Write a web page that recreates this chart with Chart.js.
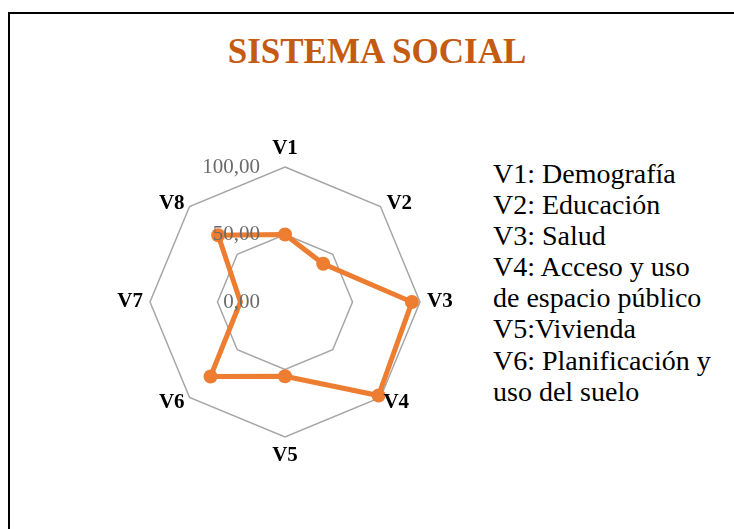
<!DOCTYPE html>
<html>
<head>
<meta charset="utf-8">
<script src="https://cdn.jsdelivr.net/npm/chart.js@4.4.1/dist/chart.umd.min.js"></script>
<style>
    html, body { margin: 0; padding: 0; background: #fff; overflow: hidden; }
    body { width: 734px; height: 529px; position: relative; }
    #frame { position: absolute; left: 8px; top: 12px; width: 780px; height: 580px; border: 2px solid #000; }
    #title { position: absolute; left: 0; width: 754px; top: 32px; text-align: center; font-family: 'Liberation Serif', 'Times New Roman', serif; font-weight: bold; font-size: 35px; line-height: 40px; color: #C55A11; }
    #notes { position: absolute; left: 493px; top: 158px; font-family: 'Liberation Serif', 'Times New Roman', serif; font-size: 28px; line-height: 31.1px; color: #000; white-space: nowrap; }
    #chartBox { position: absolute; left: 85px; top: 102px; width: 400px; height: 400px; }
</style>
</head>
<body>
<div id="frame"></div>
<div id="title">SISTEMA SOCIAL</div>
<div id="notes"></div>
<div id="chartBox"><canvas id="radarChart"></canvas></div>

<script>
// ====== DATA ======
const categories = ['V1', 'V2', 'V3', 'V4', 'V5', 'V6', 'V7', 'V8'];
const values = [50, 40, 94, 98, 55, 78, 33, 70];
const tickValues = [0, 50, 100];
const tickLabels = ['0,00', '50,00', '100,00'];
const noteLines = [
    'V1: Demografía',
    'V2: Educación',
    'V3: Salud',
    'V4: Acceso y uso',
    'de espacio público',
    'V5:Vivienda',
    'V6: Planificación y',
    'uso del suelo'
];

const serif = '"Liberation Serif", "Times New Roman", serif';

// ====== NOTES TEXT ======
document.getElementById('notes').innerHTML = noteLines.map(l => `<div>${l}</div>`).join('');

// ====== CATEGORY LABELS (Excel style: diagonals sit level with their corner) ======
const categoryLabelPlugin = {
    id: 'categoryLabelPlugin',
    afterDraw(chart) {
        const s = chart.scales.r;
        const ctx = chart.ctx;
        ctx.save();
        ctx.font = 'bold 21px ' + serif;
        ctx.fillStyle = '#000';
        ctx.textBaseline = 'middle';
        categories.forEach((label, i) => {
            const p = s.getPointPosition(i, s.drawingArea);
            let x = p.x, y = p.y;
            if (i === 0) { ctx.textAlign = 'center'; y -= 18; }
            else if (i === 4) { ctx.textAlign = 'center'; y += 19; }
            else if (i === 2) { ctx.textAlign = 'left'; x += 7; }
            else if (i === 6) { ctx.textAlign = 'right'; x -= 7; }
            else if (i === 1) { ctx.textAlign = 'left'; x += 6; y -= 3; }
            else if (i === 3) { ctx.textAlign = 'left'; x += 3; y += 5; }
            else if (i === 5) { ctx.textAlign = 'right'; x -= 5; y += 5; }
            else if (i === 7) { ctx.textAlign = 'right'; x -= 5; y -= 3; }
            ctx.fillText(label, x, y);
        });
        ctx.restore();
    }
};

// ====== TICK LABELS (drawn over the line, left of the vertical axis) ======
const tickLabelPlugin = {
    id: 'tickLabelPlugin',
    afterDatasetsDraw(chart) {
        const s = chart.scales.r;
        const ctx = chart.ctx;
        ctx.save();
        ctx.font = '21px ' + serif;
        ctx.fillStyle = '#6b6b6b';
        ctx.textAlign = 'right';
        ctx.textBaseline = 'middle';
        tickValues.forEach((v, i) => {
            const y = s.yCenter - s.getDistanceFromCenterForValue(v);
            ctx.fillText(tickLabels[i], s.xCenter - 25, y);
        });
        ctx.restore();
    }
};

// ====== INIT ======
const ctx = document.getElementById('radarChart').getContext('2d');
new Chart(ctx, {
    type: 'radar',
    data: {
        labels: categories,
        datasets: [{
            data: values,
            borderColor: '#ED7D31',
            backgroundColor: '#ED7D31',
            borderWidth: 5,
            fill: false,
            pointRadius: [7, 7, 7, 7, 7, 7, 0, 7],
            pointBackgroundColor: '#ED7D31',
            pointBorderWidth: 0
        }]
    },
    options: {
        responsive: true,
        maintainAspectRatio: false,
        animation: false,
        layout: { padding: 65 },
        plugins: { legend: { display: false }, tooltip: { enabled: false } },
        scales: {
            r: {
                min: 0,
                max: 100,
                ticks: { stepSize: 50, display: false },
                angleLines: { display: false },
                grid: { color: '#a6a6a6', lineWidth: 1.5 },
                pointLabels: { display: false }
            }
        }
    },
    plugins: [tickLabelPlugin, categoryLabelPlugin]
});
</script>
</body>
</html>
